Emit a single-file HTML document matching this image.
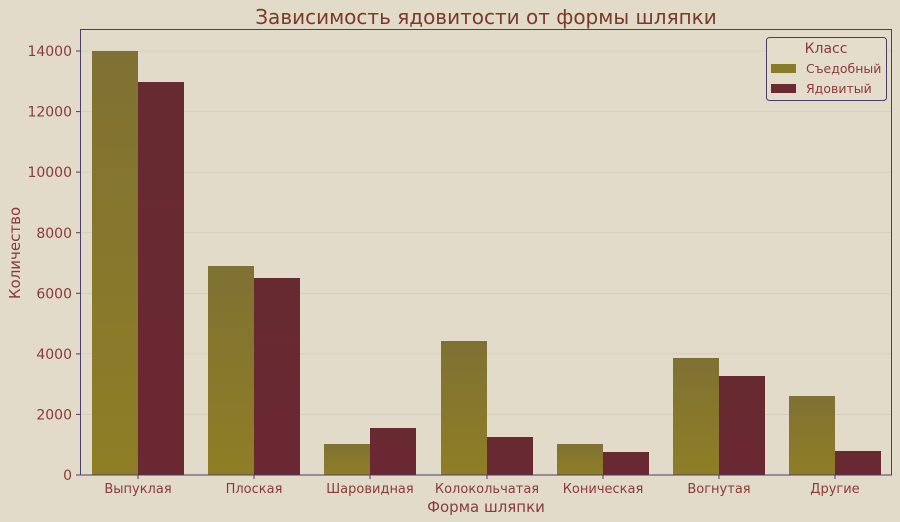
<!DOCTYPE html>
<html><head><meta charset="utf-8"><style>
html,body{margin:0;padding:0;background:#e2dbc9;}
svg{display:block;font-family:"DejaVu Sans","Liberation Sans",sans-serif;}
</style></head><body>
<svg width="900" height="522" viewBox="0 0 900 522" xmlns="http://www.w3.org/2000/svg">
<defs>
<linearGradient id="ge" x1="0" y1="0" x2="0" y2="1"><stop offset="0" stop-color="#7f7133"/><stop offset="1" stop-color="#8f7e26"/></linearGradient>
<linearGradient id="gp" x1="0" y1="0" x2="0" y2="1"><stop offset="0" stop-color="#682a31"/><stop offset="1" stop-color="#6a2832"/></linearGradient>
</defs>
<rect width="900" height="522" fill="#e2dbc9"/>
<g stroke="#d5cdba" stroke-width="0.8">
<line x1="80" y1="414.4" x2="892" y2="414.4"/><line x1="80" y1="353.9" x2="892" y2="353.9"/>
<line x1="80" y1="293.3" x2="892" y2="293.3"/><line x1="80" y1="232.7" x2="892" y2="232.7"/>
<line x1="80" y1="172.1" x2="892" y2="172.1"/><line x1="80" y1="111.6" x2="892" y2="111.6"/>
<line x1="80" y1="51" x2="892" y2="51"/>
</g>
<g fill="url(#ge)">
<rect x="92" y="51" width="46" height="424"/>
<rect x="208" y="266" width="46" height="209"/>
<rect x="324" y="444" width="46" height="31"/>
<rect x="441" y="341" width="46" height="134"/>
<rect x="557" y="444" width="46" height="31"/>
<rect x="673" y="358" width="46" height="117"/>
<rect x="789" y="396" width="46" height="79"/>
</g>
<g fill="url(#gp)">
<rect x="138" y="82" width="46" height="393"/>
<rect x="254" y="278" width="46" height="197"/>
<rect x="370" y="428" width="46" height="47"/>
<rect x="487" y="437" width="46" height="38"/>
<rect x="603" y="452" width="46" height="23"/>
<rect x="719" y="376" width="46" height="99"/>
<rect x="835" y="451" width="46" height="24"/>
</g>
<rect x="80.5" y="29.5" width="811" height="445.5" fill="none" stroke="#4a3d6a" stroke-width="1"/>
<g stroke="#4a3d6a" stroke-width="1">
<line x1="76" y1="475" x2="80" y2="475"/><line x1="76" y1="414.4" x2="80" y2="414.4"/>
<line x1="76" y1="353.9" x2="80" y2="353.9"/><line x1="76" y1="293.3" x2="80" y2="293.3"/>
<line x1="76" y1="232.7" x2="80" y2="232.7"/><line x1="76" y1="172.1" x2="80" y2="172.1"/>
<line x1="76" y1="111.6" x2="80" y2="111.6"/><line x1="76" y1="51" x2="80" y2="51"/>
<line x1="138" y1="475" x2="138" y2="479"/><line x1="254" y1="475" x2="254" y2="479"/>
<line x1="370" y1="475" x2="370" y2="479"/><line x1="487" y1="475" x2="487" y2="479"/>
<line x1="603" y1="475" x2="603" y2="479"/><line x1="719" y1="475" x2="719" y2="479"/>
<line x1="835" y1="475" x2="835" y2="479"/>
</g>
<g fill="#8b3a3a" font-size="14" text-anchor="end">
<text x="72" y="480">0</text><text x="72" y="419.5">2000</text><text x="72" y="359">4000</text>
<text x="72" y="298.5">6000</text><text x="72" y="238">8000</text><text x="72" y="177">10000</text>
<text x="72" y="116.5">12000</text><text x="72" y="56">14000</text>
</g>
<g fill="#8b3a3a" font-size="13" text-anchor="middle">
<text x="138" y="493">Выпуклая</text><text x="254" y="493">Плоская</text><text x="370" y="493">Шаровидная</text>
<text x="487" y="493">Колокольчатая</text><text x="603" y="493">Коническая</text><text x="719" y="493">Вогнутая</text>
<text x="835" y="493">Другие</text>
</g>
<text x="486" y="512" fill="#8b3a3a" font-size="15" text-anchor="middle">Форма шляпки</text>
<text transform="translate(20,253) rotate(-90)" fill="#8b3a3a" font-size="15" text-anchor="middle">Количество</text>
<text x="486" y="24" fill="#7a3a2a" font-size="20" text-anchor="middle">Зависимость ядовитости от формы шляпки</text>
<rect x="766.5" y="37.5" width="120" height="63" rx="3" fill="#e4ddcc" stroke="#4a3d6a" stroke-width="1"/>
<text x="826" y="53" fill="#8b3a3a" font-size="14" text-anchor="middle">Класс</text>
<rect x="771" y="64" width="25" height="9" fill="#8a7b28"/>
<rect x="771" y="84" width="25" height="9" fill="#692a33"/>
<g fill="#8b3a3a" font-size="12.5"><text x="806" y="73">Съедобный</text><text x="806" y="93">Ядовитый</text></g>
</svg>
</body></html>
